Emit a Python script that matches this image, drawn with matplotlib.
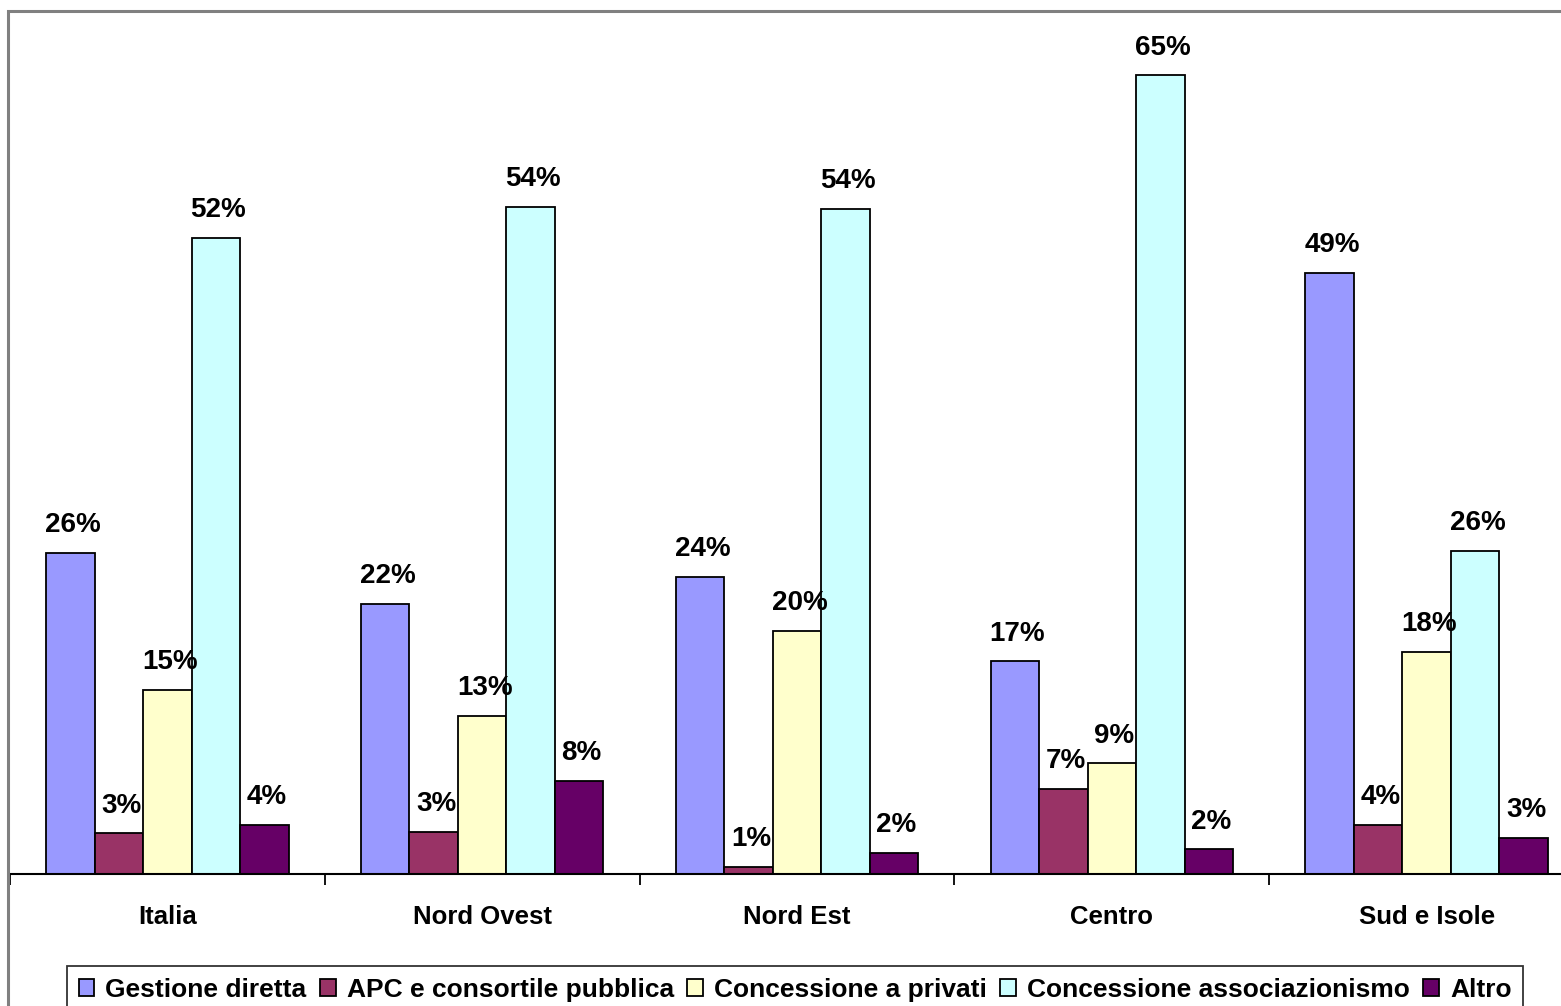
import numpy as np
import matplotlib
matplotlib.use("Agg")
import matplotlib.pyplot as plt
from matplotlib.patches import Rectangle

plt.rcParams['font.family'] = ['Liberation Sans', 'DejaVu Sans']
plt.rcParams['font.weight'] = 'bold'

# categorie (aree geografiche)
regions = ['Italia', 'Nord Ovest', 'Nord Est', 'Centro', 'Sud e Isole']

# forme di gestione (%)
gestione_diretta = [26.1, 22.0, 24.2, 17.3, 48.9]
apc_consortile = [3.3, 3.4, 0.6, 6.9, 4.0]
conc_privati = [15.0, 12.9, 19.8, 9.0, 18.1]
conc_associazionismo = [51.8, 54.3, 54.1, 65.0, 26.3]
altro = [4.0, 7.6, 1.7, 2.0, 2.9]

series_names = ['Gestione diretta', 'APC e consortile pubblica', 'Concessione a privati',
                'Concessione associazionismo', 'Altro']
series = [gestione_diretta, apc_consortile, conc_privati, conc_associazionismo, altro]
colors = ['#9999FF', '#993366', '#FFFFCC', '#CCFFFF', '#660066']

W, H = 1561, 1006
fig = plt.figure(figsize=(W / 100, H / 100), dpi=100)

# cornice grigia (come nel grafico Excel originale)
fig.patches.append(Rectangle((8 / W, -0.1), 1.2, 1 - 11 / H + 0.1, transform=fig.transFigure,
                             fill=False, edgecolor='#808080', linewidth=2.2, zorder=0))

ax = fig.add_axes([10 / W, 1 - 874 / H, 1574 / W, 860 / H])

x = np.arange(len(regions))
w = 0.154
for i, (name, vals, col) in enumerate(zip(series_names, series, colors)):
    pos = x - 2 * w + i * w
    bars = ax.bar(pos, vals, width=w, color=col, edgecolor='black', linewidth=1.3,
                  label=name, zorder=2)
    for b, v in zip(bars, vals):
        ax.text(b.get_x() + b.get_width() / 2 + 0.008, v + 1.7, '{:.0f}%'.format(v),
                ha='center', va='baseline', fontsize=20, fontweight='bold')

ax.set_xlim(-0.5, len(regions) - 0.5)
ax.set_ylim(0, 70)
for s in ['top', 'right', 'left']:
    ax.spines[s].set_visible(False)
ax.spines['bottom'].set_linewidth(1.5)
ax.set_yticks([])

ax.set_xticks(x - 0.5)
ax.set_xticklabels([])
ax.tick_params(axis='x', which='major', length=8, width=1.3, direction='out')
ax.set_xticks(x, minor=True)
ax.set_xticklabels(regions, minor=True, fontsize=18.5, fontweight='bold')
ax.tick_params(axis='x', which='minor', length=0, pad=22)

leg = fig.legend(loc='upper center', bbox_to_anchor=(795 / W, 1 - 966 / H), ncol=5,
                 fontsize=19, frameon=True, fancybox=False, edgecolor='black',
                 handlelength=0.6, handleheight=0.65, handletextpad=0.42,
                 columnspacing=0.5, borderpad=0.45, borderaxespad=0)
leg.get_frame().set_linewidth(1.3)
for t in leg.get_texts():
    t.set_fontweight('bold')

fig.savefig('out.png', dpi=100)
